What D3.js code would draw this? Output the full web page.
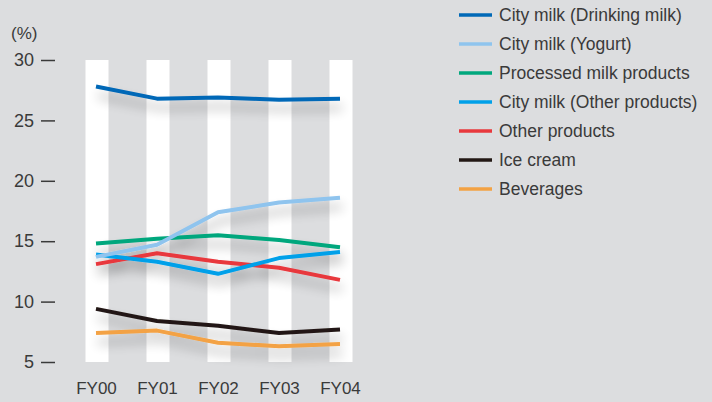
<!DOCTYPE html>
<html>
<head>
<meta charset="utf-8">
<script src="https://cdn.jsdelivr.net/npm/d3@7"></script>
<style>
  html, body { margin: 0; padding: 0; background: #dcdddf; }
  svg { display: block; }
  text { font-family: "Liberation Sans", Arial, sans-serif; fill: #3a3a3a; }
</style>
</head>
<body>
<svg id="chart" width="712" height="402"></svg>
<script>
// Fiscal years on the x axis
const categories = ["FY00", "FY01", "FY02", "FY03", "FY04"];

// Sales composition by product category (%)
const drinkingMilk   = [27.8, 26.8, 26.9, 26.7, 26.8];
const yogurt         = [13.7, 14.7, 17.4, 18.2, 18.6];
const processedMilk  = [14.8, 15.2, 15.5, 15.1, 14.5];
const cityMilkOther  = [13.9, 13.3, 12.3, 13.6, 14.1];
const otherProducts  = [13.1, 14.0, 13.3, 12.8, 11.8];
const iceCream       = [9.4, 8.4, 8.0, 7.4, 7.7];
const beverages      = [7.4, 7.6, 6.6, 6.3, 6.5];

const seriesNames = [
  "City milk (Drinking milk)",
  "City milk (Yogurt)",
  "Processed milk products",
  "City milk (Other products)",
  "Other products",
  "Ice cream",
  "Beverages"
];
const seriesValues = [drinkingMilk, yogurt, processedMilk, cityMilkOther, otherProducts, iceCream, beverages];
const seriesColors = ["#0068b7", "#8fc4ee", "#00a77d", "#00a0e9", "#e8383d", "#231815", "#f3a244"];

const yTicks = [5, 10, 15, 20, 25, 30];

const svg = d3.select("#chart");

const x = d3.scalePoint().domain(categories).range([96, 340]);
const y = d3.scaleLinear().domain([5, 30]).range([362, 60]);

// Soft shadow beneath the lines
const defs = svg.append("defs");
const f = defs.append("filter").attr("id", "shadow")
  .attr("x", "-15%").attr("y", "-15%").attr("width", "130%").attr("height", "150%");
f.append("feGaussianBlur").attr("in", "SourceAlpha").attr("stdDeviation", 6).attr("result", "blur");
f.append("feOffset").attr("in", "blur").attr("dx", 2).attr("dy", 9).attr("result", "off");
f.append("feComponentTransfer").attr("in", "off").attr("result", "shade")
  .append("feFuncA").attr("type", "linear").attr("slope", 0.32);
const merge = f.append("feMerge");
merge.append("feMergeNode").attr("in", "shade");
merge.append("feMergeNode").attr("in", "SourceGraphic");

// White column bands behind each year
svg.append("g").selectAll("rect")
  .data(categories)
  .join("rect")
  .attr("x", d => x(d) - 10.5)
  .attr("width", 23)
  .attr("y", y(30))
  .attr("height", y(5) - y(30))
  .attr("fill", "#ffffff");

// Y axis
const yAxis = svg.append("g")
  .attr("transform", "translate(55,0)")
  .call(d3.axisLeft(y).tickValues(yTicks).tickSize(14).tickPadding(7));
yAxis.select(".domain").remove();
yAxis.selectAll(".tick line").attr("stroke", "#3a3a3a").attr("stroke-width", 1.5);
yAxis.selectAll(".tick text")
  .style("font-family", "'Liberation Sans', Arial, sans-serif")
  .attr("font-size", 18).attr("fill", "#3a3a3a");

svg.append("text")
  .attr("x", 11).attr("y", 39)
  .attr("font-size", 17)
  .text("(%)");

// X axis
const xAxis = svg.append("g")
  .attr("transform", `translate(0,${y(5)})`)
  .call(d3.axisBottom(x).tickSize(0).tickPadding(20));
xAxis.select(".domain").remove();
xAxis.selectAll(".tick text")
  .style("font-family", "'Liberation Sans', Arial, sans-serif")
  .attr("font-size", 17).attr("fill", "#3a3a3a");

// Lines
const line = d3.line()
  .x((d, i) => x(categories[i]))
  .y(d => y(d));

svg.append("g")
  .attr("filter", "url(#shadow)")
  .selectAll("path")
  .data(seriesValues.map((v, i) => ({ values: v, color: seriesColors[i] })).reverse())
  .join("path")
  .attr("d", d => line(d.values))
  .attr("fill", "none")
  .attr("stroke", d => d.color)
  .attr("stroke-width", 4)
  .attr("stroke-linejoin", "round");

// Legend
const legend = svg.append("g").attr("transform", "translate(459,15)");
const item = legend.selectAll("g")
  .data(seriesNames)
  .join("g")
  .attr("transform", (d, i) => `translate(0,${i * 29})`);
item.append("line")
  .attr("x1", 0).attr("x2", 33)
  .attr("stroke", (d, i) => seriesColors[i])
  .attr("stroke-width", 3.5);
item.append("text")
  .attr("x", 40).attr("dy", "0.35em")
  .attr("font-size", 17.5)
  .text(d => d);
</script>
</body>
</html>
